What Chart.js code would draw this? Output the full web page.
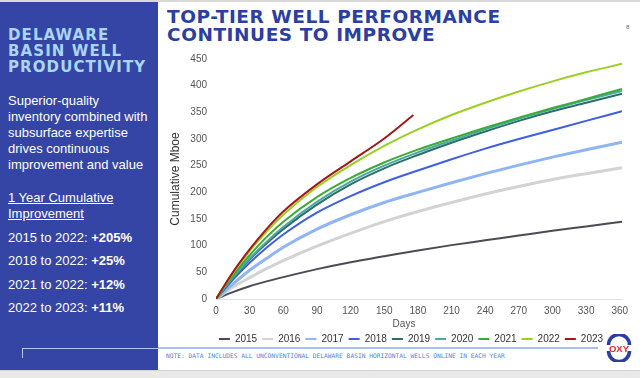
<!DOCTYPE html>
<html><head><meta charset="utf-8">
<script src="https://cdn.jsdelivr.net/npm/chart.js@4.4.0/dist/chart.umd.min.js"></script>
<style>
html,body{margin:0;padding:0;width:640px;height:378px;overflow:hidden;background:#fff;font-family:"Liberation Sans",Arial,sans-serif;}
#topline{position:absolute;left:0;top:0;width:640px;height:2px;background:#d9d9d9;}
#panel{position:absolute;left:0;top:2px;width:158px;height:368px;background:#3545a5;}
#bottom{position:absolute;left:0;top:370px;width:640px;height:8px;background:#e9e9e9;border-top:1px solid #d4d4d4;}
.ptitle{position:absolute;left:8px;top:28px;color:#a9d6f6;font-family:"DejaVu Sans",sans-serif;font-weight:bold;font-size:15px;line-height:15.8px;letter-spacing:1.1px;white-space:nowrap;}
.pbody{position:absolute;left:8px;top:92.5px;color:#fff;font-size:13px;line-height:16px;white-space:nowrap;}
.pimp{position:absolute;left:8px;top:189.5px;color:#fff;font-size:13px;line-height:16px;white-space:nowrap;text-decoration:underline;}
.stat{position:absolute;left:8px;color:#fff;font-size:13px;line-height:16px;white-space:nowrap;}
.stat b{font-weight:bold;}
.title{position:absolute;left:167px;top:8px;color:#2b3ea1;font-family:"DejaVu Sans",sans-serif;font-weight:bold;font-size:18.5px;line-height:18px;letter-spacing:0.55px;white-space:nowrap;}
#pgnum{position:absolute;left:626px;top:24px;font-size:6px;color:#666;}
#lineL{position:absolute;left:22px;top:348px;width:136px;height:1px;background:#b9c3ec;}
#tickL{position:absolute;left:22px;top:348px;width:1px;height:10px;background:#b9c3ec;}
#lineR{position:absolute;left:158px;top:347px;width:440px;height:2px;background:#a9c0f3;}
#note{position:absolute;left:166px;top:352px;font-family:"DejaVu Sans Mono",monospace;font-size:6.26px;color:#5b7fe3;white-space:nowrap;}
#chartwrap{position:absolute;left:160px;top:44px;width:502px;height:310px;}
#logo{position:absolute;left:605px;top:334px;}
</style>
</head>
<body>
<div id="topline"></div>
<div id="panel"></div>
<div id="bottom"></div>
<div class="ptitle">DELAWARE<br>BASIN WELL<br>PRODUCTIVITY</div>
<div class="pbody">Superior-quality<br>inventory combined with<br>subsurface expertise<br>drives continuous<br>improvement and value</div>
<div class="pimp">1 Year Cumulative<br>Improvement</div>
<div class="stat" style="top:229.8px">2015 to 2022: <b>+205%</b></div>
<div class="stat" style="top:253.2px">2018 to 2022: <b>+25%</b></div>
<div class="stat" style="top:276.5px">2021 to 2022: <b>+12%</b></div>
<div class="stat" style="top:299.8px">2022 to 2023: <b>+11%</b></div>
<div class="title">TOP-TIER WELL PERFORMANCE<br>CONTINUES TO IMPROVE</div>
<div id="pgnum">8</div>
<div id="lineL"></div><div id="tickL"></div><div id="lineR"></div>
<div id="note">NOTE: DATA INCLUDES ALL UNCONVENTIONAL DELAWARE BASIN HORIZONTAL WELLS ONLINE IN EACH YEAR</div>
<div id="chartwrap"><canvas id="c" width="502" height="310"></canvas></div>
<svg id="logo" width="28" height="28" viewBox="0 0 28 28">
  <path d="M3.5 11 A10.5 10.5 0 0 1 24.5 11" fill="none" stroke="#2b3ea1" stroke-width="3.6"/>
  <path d="M3.5 17 A10.5 10.5 0 0 0 24.5 17" fill="none" stroke="#2b3ea1" stroke-width="3.6"/>
  <text x="14" y="17.6" text-anchor="middle" font-family="Liberation Sans" font-weight="bold" font-size="9.5" fill="#e3262f">OXY</text>
</svg>
<script>
const days = [0, 15, 30, 45, 60, 90, 120, 150, 180, 210, 240, 270, 300, 330, 362];
const days2023 = [0, 15, 30, 45, 60, 90, 120, 150, 176];
const seriesNames = ['2015','2016','2017','2018','2019','2020','2021','2022','2023'];
const y2015 = [0, 13, 24, 33, 41, 56, 69, 80, 91, 101, 110, 119, 128, 136, 145];
const y2016 = [0, 22, 40, 57, 72, 99, 123, 145, 164, 181, 197, 211, 224, 235, 246];
const y2017 = [0, 28, 54, 76, 97, 131, 158, 181, 200, 218, 235, 251, 266, 280, 294];
const y2018 = [0, 36, 68, 96, 121, 162, 193, 219, 241, 262, 282, 300, 317, 334, 352];
const y2019 = [0, 39, 74, 104, 131, 177, 215, 245, 270, 293, 314, 334, 352, 368, 385];
const y2020 = [0, 40, 76, 107, 135, 182, 220, 250, 275, 297, 318, 338, 356, 373, 390];
const y2021 = [0, 44, 82, 116, 145, 191, 227, 256, 280, 301, 321, 340, 358, 375, 394];
const y2022 = [0, 48, 90, 126, 158, 210, 251, 287, 318, 345, 368, 389, 408, 425, 441];
const y2023 = [0, 50, 93, 131, 164, 215, 258, 301, 345];
const yTicks = [0, 50, 100, 150, 200, 250, 300, 350, 400, 450];
const xTicks = [0, 30, 60, 90, 120, 150, 180, 210, 240, 270, 300, 330, 360];

const colors = ['#4b4b55','#d3d3d3','#8fb5f2','#3f5fe0','#2b6f68','#4ba7a1','#3aab36','#9bd021','#a3181c'];
const widths = [2, 3, 3, 2, 2, 2, 2, 2, 2];
const allY = [y2015,y2016,y2017,y2018,y2019,y2020,y2021,y2022,y2023];

const datasets = seriesNames.map((name, i) => {
  const xs = i === 8 ? days2023 : days;
  return {
    label: name,
    data: xs.map((d, j) => ({x: d, y: allY[i][j]})),
    borderColor: colors[i],
    backgroundColor: colors[i],
    borderWidth: widths[i],
    pointRadius: 0,
    cubicInterpolationMode: 'monotone',
    order: 8 - i
  };
});

const daysLabel = {
  id: 'daysLabel',
  afterDraw(chart) {
    const {ctx, chartArea} = chart;
    ctx.save();
    ctx.font = '10px "Liberation Sans", Arial, sans-serif';
    ctx.fillStyle = '#555';
    ctx.textAlign = 'center';
    ctx.textBaseline = 'middle';
    ctx.fillText('Days', (chartArea.left + chartArea.right) / 2 - 15, chartArea.bottom + 25);
    ctx.restore();
  }
};

new Chart(document.getElementById('c'), {
  type: 'line',
  data: { datasets },
  options: {
    responsive: false,
    animation: false,
    devicePixelRatio: 1,
    layout: { padding: { left: 4, right: 4, top: 12, bottom: 0 } },
    plugins: {
      tooltip: { enabled: false },
      legend: {
        position: 'bottom',
        labels: {
          usePointStyle: true,
          pointStyle: 'line',
          pointStyleWidth: 11,
          boxHeight: 10,
          padding: 5,
          color: '#333',
          font: { family: '"Liberation Sans", Arial, sans-serif', size: 10 },
          generateLabels: (chart) => Chart.defaults.plugins.legend.labels.generateLabels(chart).map(l => Object.assign(l, { lineWidth: 2 })),
          sort: (a, b) => a.datasetIndex - b.datasetIndex
        }
      }
    },
    scales: {
      x: {
        type: 'linear',
        min: 0, max: 362,
        afterBuildTicks: (s) => { s.ticks = xTicks.map(v => ({value: v})); },
        ticks: { color: '#555', font: { size: 10, family: '"Liberation Sans", Arial, sans-serif' }, padding: 6, maxRotation: 0, autoSkip: false },
        grid: { display: false, drawTicks: false },
        border: { display: true, color: '#e0e0e0', width: 1 },
        afterFit: (s) => { s.height = 30; }
      },
      y: {
        min: 0, max: 450,
        afterBuildTicks: (s) => { s.ticks = yTicks.map(v => ({value: v})); },
        ticks: { color: '#555', font: { size: 10, family: '"Liberation Sans", Arial, sans-serif' }, padding: 9 },
        grid: { display: false, drawTicks: false },
        border: { display: false },
        title: { display: true, text: 'Cumulative Mboe', color: '#333', font: { size: 12, family: '"Liberation Sans", Arial, sans-serif' }, padding: { top: 4, bottom: 0 } },
        afterFit: (s) => { s.width = 52; }
      },
      yR: {
        position: 'right',
        display: true,
        min: 0, max: 1,
        ticks: { display: false },
        grid: { display: false, drawTicks: false },
        border: { display: false },
        afterFit: (s) => { s.width = 36; }
      }
    }
  },
  plugins: [daysLabel]
});
</script>
</body></html>
